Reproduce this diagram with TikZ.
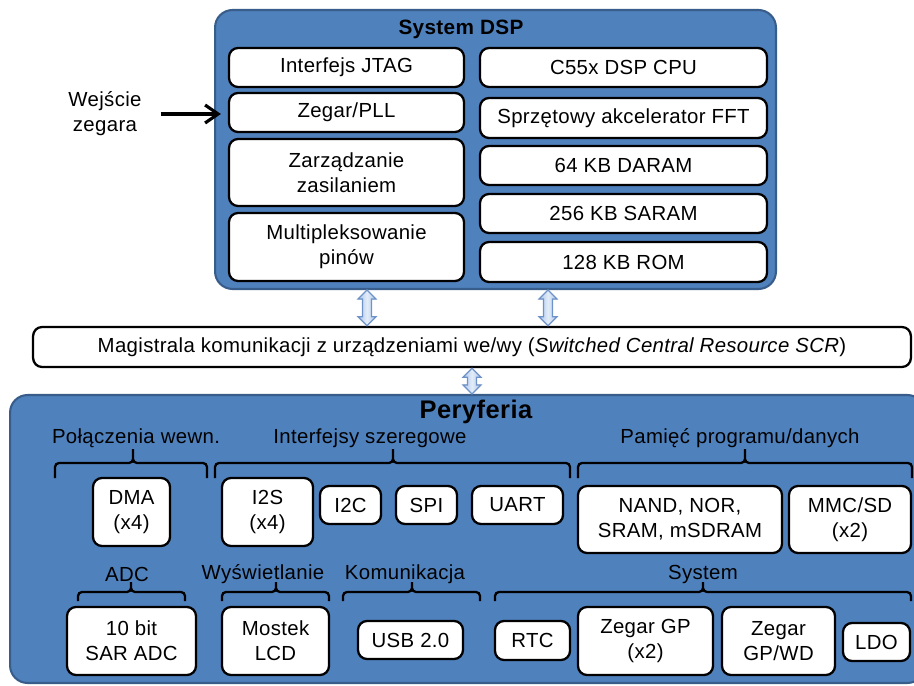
\documentclass[tikz,border=0pt]{standalone}
\usepackage{fontspec}
\setmainfont[LetterSpace=1.7]{Liberation Sans}
\usetikzlibrary{arrows.meta,calc}

\begin{document}
\begin{tikzpicture}[x=0.02cm,y=-0.02cm,
  every node/.style={font=\fontsize{11.6}{14.2}\selectfont},
  grp/.style={draw=bordcol,line width=1.2pt,fill=bluecol,rounded corners=0.35cm},
  blk/.style={draw=black,line width=1.3pt,fill=white,rounded corners=0.18cm,align=center,inner sep=1pt},
  brc/.style={line width=1.3pt,rounded corners=0.08cm},
  busarr/.style={draw=arrcol,left color=arrdark,right color=arrdark,middle color=arrlight,line width=0.7pt}]

  \definecolor{bluecol}{HTML}{4F81BD}
  \definecolor{bordcol}{HTML}{385D8A}
  \definecolor{arrlight}{HTML}{E4EDF9}
  \definecolor{arrdark}{HTML}{A9C4EA}
  \definecolor{arrcol}{HTML}{6F93C8}

  \useasboundingbox (0,0) rectangle (914,686);

  % system dsp
  \node[grp,minimum width=11.22cm,minimum height=5.58cm] (dsp) at (495.5,149.5) {};
  \node[font=\fontsize{11.8}{14}\selectfont\bfseries] (dsptitle) at (461,29) {System DSP};

  \node[blk,minimum width=4.7cm,minimum height=0.78cm] (jtag) at (346.5,67.5) {Interfejs JTAG};
  \node[blk,minimum width=4.7cm,minimum height=0.78cm] (pll) at (346.5,112.5) {Zegar/PLL};
  \node[blk,minimum width=4.7cm,minimum height=1.34cm] (power) at (346.5,172.5) {Zarządzanie\\zasilaniem};
  \node[blk,minimum width=4.7cm,minimum height=1.36cm] (pinmux) at (346.5,247) {Multipleksowanie\\pinów};

  \node[blk,minimum width=5.74cm,minimum height=0.78cm] (cpu) at (623.5,67.5) {C55x DSP CPU};
  \node[blk,minimum width=5.74cm,minimum height=0.80cm] (fft) at (623.5,118) {Sprzętowy akcelerator FFT};
  \node[blk,minimum width=5.74cm,minimum height=0.78cm] (daram) at (623.5,165.5) {64 KB DARAM};
  \node[blk,minimum width=5.74cm,minimum height=0.78cm] (saram) at (623.5,213.5) {256 KB SARAM};
  \node[blk,minimum width=5.74cm,minimum height=0.80cm] (rom) at (623.5,262) {128 KB ROM};

  % clock input
  \node[align=center] (clk) at (105,114) {Wejście\\zegara};
  \draw[-{Straight Barb[length=0.26cm,width=0.36cm]},line width=1.8pt,
    shorten <=0.26cm,shorten >=0.14cm] (clk.east) -- (clk.east -| pll.west);

  % bus
  \node[blk,minimum width=17.56cm,minimum height=0.8cm] (bus) at (472,347)
    {Magistrala komunikacji z urządzeniami we/wy (\textit{Switched Central Resource SCR})};

  % peripherals
  \node[grp,minimum width=18.3cm,minimum height=5.76cm] (per) at (467.5,539) {};
  \node[font=\fontsize{14.5}{16}\selectfont\bfseries] (pertitle) at (476,412) {Peryferia};

  % block arrows
  \coordinate (ax1) at (367,0);
  \coordinate (ax2) at (548,0);
  \coordinate (ax3) at (472,0);
  \foreach \a/\b/\x in {dsp/bus/ax1, dsp/bus/ax2, bus/per/ax3}
    \filldraw[busarr] (\a.south -| \x) -- ++(9,9) -- ++(-4.5,0)
      -- ($(\b.north -| \x)+(4.5,-9)$) -- ++(4.5,0) -- (\b.north -| \x)
      -- ++(-9,-9) -- ++(4.5,0) -- ($(\a.south -| \x)+(-4.5,9)$) -- ++(-4.5,0) -- cycle;

  % first row
  \node (lconn) at (136,438) {Połączenia wewn.};
  \node (lser) at (370,438) {Interfejsy szeregowe};
  \node (lmem) at (740,438) {Pamięć programu/danych};

  \foreach \xa/\xt/\xb in {55/133/207, 215/393/570, 578/745/912}
    \draw[brc] (\xa,478) |- (\xt,463) -- (\xt,449) (\xb,478) |- (\xt,463) -- (\xt,449);

  \node[blk,minimum width=1.54cm,minimum height=1.36cm] (dma) at (131.5,512) {DMA\\(x4)};
  \node[blk,minimum width=1.82cm,minimum height=1.36cm] (i2s) at (267.5,512) {I2S\\(x4)};
  \node[blk,minimum width=1.22cm,minimum height=0.76cm] (i2c) at (350.5,505) {I2C};
  \node[blk,minimum width=1.22cm,minimum height=0.76cm] (spi) at (426.5,505) {SPI};
  \node[blk,minimum width=1.82cm,minimum height=0.76cm] (uart) at (517.5,505) {UART};
  \node[blk,minimum width=4.08cm,minimum height=1.34cm] (nand) at (680,519.5) {NAND, NOR,\\SRAM, mSDRAM};
  \node[blk,minimum width=2.44cm,minimum height=1.34cm] (mmc) at (850,519.5) {MMC/SD\\(x2)};

  % second row
  \node (ladc) at (127,574) {ADC};
  \node (ldisp) at (263,574) {Wyświetlanie};
  \node (lcom) at (405,574) {Komunikacja};
  \node (lsys) at (703,574) {System};

  \foreach \xa/\xt/\xb in {78/131/185, 222/276/329, 343/412/480, 495/703/911}
    \draw[brc] (\xa,601) |- (\xt,592) -- (\xt,582) (\xb,601) |- (\xt,592) -- (\xt,582);

  \node[blk,minimum width=2.58cm,minimum height=1.36cm] (sar) at (131.5,641) {10 bit\\SAR ADC};
  \node[blk,minimum width=2.14cm,minimum height=1.36cm] (lcd) at (275.5,641) {Mostek\\LCD};
  \node[blk,minimum width=2.10cm,minimum height=0.76cm] (usb) at (410.5,640) {USB 2.0};
  \node[blk,minimum width=1.50cm,minimum height=0.78cm] (rtc) at (532.5,640.5) {RTC};
  \node[blk,minimum width=2.70cm,minimum height=1.36cm] (gp) at (645.5,641) {Zegar GP\\(x2)};
  \node[blk,minimum width=2.26cm,minimum height=1.36cm] (gpwd) at (778.5,641) {Zegar\\GP/WD};
  \node[blk,minimum width=1.34cm,minimum height=0.76cm] (ldo) at (876.5,642) {LDO};

\end{tikzpicture}
\end{document}
